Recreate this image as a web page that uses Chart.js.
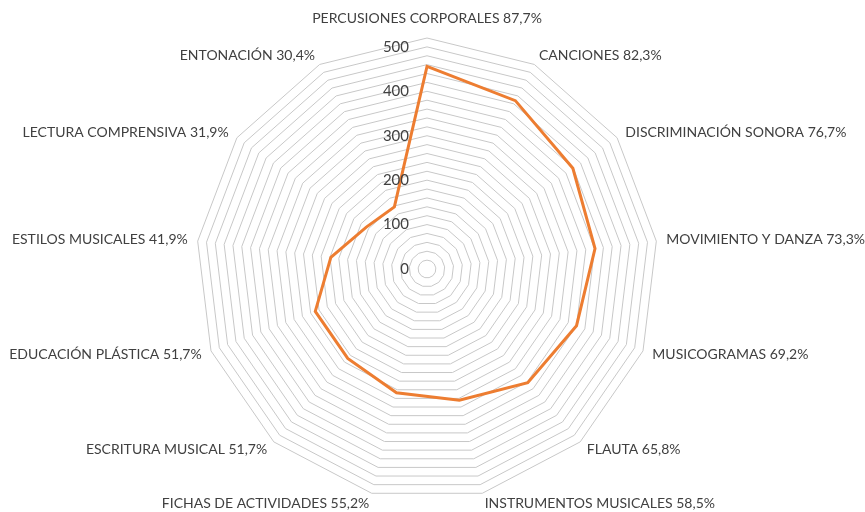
<!DOCTYPE html>
<html>
<head>
<meta charset="utf-8">
<script src="https://cdn.jsdelivr.net/npm/chart.js@4"></script>
<style>
  html, body { margin: 0; padding: 0; background: #fff; }
  #wrap { width: 865px; height: 512px; }
</style>
</head>
<body>
<div id="wrap"><canvas id="radarChart"></canvas></div>
<script>
// Categories, in clockwise order from the top
const categories = [
  "PERCUSIONES CORPORALES", "CANCIONES", "DISCRIMINACIÓN SONORA",
  "MOVIMIENTO Y DANZA", "MUSICOGRAMAS", "FLAUTA", "INSTRUMENTOS MUSICALES",
  "FICHAS DE ACTIVIDADES", "ESCRITURA MUSICAL", "EDUCACIÓN PLÁSTICA",
  "ESTILOS MUSICALES", "LECTURA COMPRENSIVA", "ENTONACIÓN"
];
// Percentages shown next to each category
const percents = ["87,7%", "82,3%", "76,7%", "73,3%", "69,2%", "65,8%", "58,5%",
  "55,2%", "51,7%", "51,7%", "41,9%", "31,9%", "30,4%"];
// Values
const values = [456, 428, 399, 381, 360, 342, 304, 287, 269, 269, 218, 166, 158];
// Radial tick labels
const tickLabels = [0, 100, 200, 300, 400, 500];

const FONT = "Lato";
const TEXT = "#404040";

// Draws the category labels and the tick labels the way the original places them
const labelPlugin = {
  id: "labelPlugin",
  afterDraw(chart) {
    const scale = chart.scales.r;
    const ctx = chart.ctx;
    ctx.save();
    ctx.fillStyle = TEXT;
    ctx.font = "14px " + FONT;
    ctx.textBaseline = "middle";
    const n = categories.length;
    for (let i = 0; i < n; i++) {
      const pos = scale.getPointPosition(i, scale.drawingArea + 10);
      const a = scale.getIndexAngle(i);
      const s = Math.sin(a);
      let y = pos.y;
      if (Math.abs(s) < 0.01) {
        ctx.textAlign = "center";
        y -= Math.cos(a) * 10;
      } else {
        ctx.textAlign = s > 0 ? "left" : "right";
      }
      ctx.fillText(categories[i] + " " + percents[i], pos.x, y);
    }
    // tick labels to the left of the vertical axis
    ctx.font = "15px " + FONT;
    ctx.textAlign = "right";
    tickLabels.forEach((v) => {
      const d = scale.getDistanceFromCenterForValue(v);
      ctx.fillText(String(v), scale.xCenter - 18, scale.yCenter - d);
    });
    ctx.restore();
  }
};

const config = {
  type: "radar",
  data: {
    labels: categories,
    datasets: [
      {
        label: "Serie",
        data: values,
        borderColor: "#ed7d31",
        borderWidth: 3,
        backgroundColor: "rgba(0,0,0,0)",
        fill: false,
        pointRadius: 0,
        tension: 0,
      },
    ],
  },
  options: {
    responsive: true,
    maintainAspectRatio: false,
    animation: false,
    layout: {
      padding: { top: 38, bottom: 12, left: 0, right: 10 },
    },
    plugins: {
      legend: { display: false },
      tooltip: { enabled: false },
    },
    scales: {
      r: {
        min: 0,
        max: 520,
        ticks: { stepSize: 20, display: false },
        grid: { color: "#c8c8c8", lineWidth: 1 },
        angleLines: { display: false },
        pointLabels: { display: false },
      },
    },
  },
  plugins: [labelPlugin],
};

// Render radar chart
const radarChart = new Chart(document.getElementById("radarChart"), config);
</script>
</body>
</html>
